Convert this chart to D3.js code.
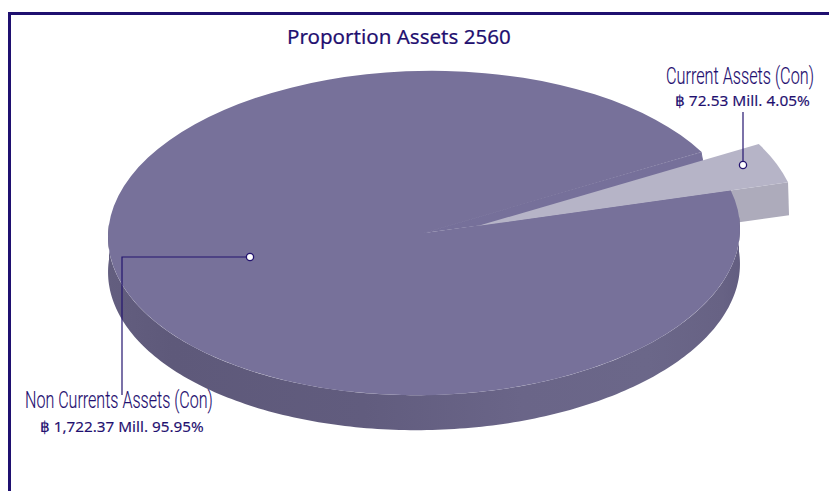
<!DOCTYPE html>
<html><head><meta charset="utf-8">
<script src="https://cdn.jsdelivr.net/npm/d3@7"></script>
<style>html,body{margin:0;padding:0;background:#fff;overflow:hidden}svg{display:block}</style>
</head><body><svg id="c" width="829" height="491"></svg>
<script>
const chartTitle = "Proportion Assets 2560";
const categories = ["Current Assets (Con)", "Non Currents Assets (Con)"];
const values = [72.53, 1722.37];
const valueLabels = ["฿ 72.53 Mill. 4.05%", "฿ 1,722.37 Mill. 95.95%"];
const colors = ["#b6b4c7", "#77719a"];
const sideColors = ["#adabbb", "#615c7e"];

const navy = "#1f1070";
const W = 829, H = 491;
const cx = 424, cy = 233, R = 316, ratio = 0.513, depth = 35;
const tiltDeg = -1.0, tilt = tiltDeg*Math.PI/180;
const startDeg = 62;
const explode = [54.5, -7.2];

const svg = d3.select("#c");
const grad = svg.append("defs").append("linearGradient").attr("id","wall");
[["0%","#635e7f"],["10%","#5e597a"],["40%","#615c7e"],["65%","#6a6588"],["85%","#6b6789"],["97%","#676284"],["100%","#625d80"]]
  .forEach(s => grad.append("stop").attr("offset", s[0]).attr("stop-color", s[1]));

// frame
svg.append("path").attr("d", `M${W},13.5H9.5V${H}`).attr("fill","none").attr("stroke",navy).attr("stroke-width",3);

const pie = d3.pie().sort(null).startAngle(startDeg*Math.PI/180).endAngle((startDeg+360)*Math.PI/180);
const [cur, non] = pie(values);
const px = (a, r=R) => r*Math.sin(a);
const py = (a, r=R) => -r*Math.cos(a)*ratio;
// screen-down depth expressed in the tilted frame
const dx = depth*Math.sin(tilt), dy = depth*Math.cos(tilt);

const Rs = R + 3;
const slicePos = `translate(${cx+explode[0]},${cy+explode[1]}) rotate(${tiltDeg})`;
const mainPos = `translate(${cx},${cy}) rotate(${tiltDeg})`;
// slice-frame offset expressed in the main slice's tilted frame
const ex = explode[0]*Math.cos(tilt) + explode[1]*Math.sin(tilt);
const ey = -explode[0]*Math.sin(tilt) + explode[1]*Math.cos(tilt);

// 1. radial wall of the pulled-out slice
const a1 = cur.endAngle, a0 = cur.startAngle;
const k = 33/depth;
svg.append("path").attr("transform", slicePos).attr("fill", sideColors[0])
  .attr("d", d3.line()([[0,0],[px(a1,Rs),py(a1,Rs)],[px(a1,Rs)+dx*k+1,py(a1,Rs)+dy*k],[dx*k,dy*k]]));

// 2. front wall of the main slice
const wallAngles = d3.range(86, 276, 1).map(d => d*Math.PI/180);
svg.append("path").attr("transform", mainPos).attr("fill","url(#wall)")
  .attr("d", d3.area().x0(a=>px(a)).y0(a=>py(a)).x1(a=>px(a)+dx).y1(a=>py(a)+dy)(wallAngles));

// 3. shaded cut face between main slice and pulled-out slice (ends on the slice's edge)
svg.append("path").attr("transform", mainPos).attr("fill","#76709a").attr("stroke","#76709a").attr("stroke-width",1)
  .attr("d", d3.line()([[0,0],[px(a0)-0.5,py(a0)+0.5],[ex+px(a0,Rs*0.8),ey+py(a0,Rs*0.8)+1],[ex+px(a1,20),ey+py(a1,20)]]));

// 4. top faces
svg.append("g").attr("transform", `${mainPos} scale(1,${ratio})`).append("path")
  .attr("d", d3.arc().innerRadius(0).outerRadius(R)(non)).attr("fill", colors[1]);
svg.append("g").attr("transform", `${slicePos} scale(1,${ratio})`).append("path")
  .attr("d", d3.arc().innerRadius(0).outerRadius(Rs)(cur)).attr("fill", colors[0]);

// leaders
const leader = (pts, dot) => {
  svg.append("path").attr("d", d3.line()(pts)).attr("fill","none").attr("stroke","#24146f").attr("stroke-width",1.2);
  svg.append("circle").attr("cx",dot[0]).attr("cy",dot[1]).attr("r",3.6).attr("fill","#fff").attr("stroke","#24146f").attr("stroke-width",1.3);
};
leader([[743,112],[743,165]], [743,165]);
leader([[250,257],[122,257],[122,395]], [250,257]);

// text fitted horizontally to the reference widths
function fit(str, x, y, w, family, size, weight, fill, stroke) {
  const t = svg.append("text").text(str).attr("font-family",family).attr("font-size",size)
    .attr("font-weight",weight).attr("fill",fill).attr("stroke",fill).attr("stroke-width",stroke);
  const n = t.node().getComputedTextLength();
  t.attr("transform",`translate(${x},${y}) scale(${w/n},1)`);
}
const sans = "'Noto Sans','DejaVu Sans',sans-serif";
fit(chartTitle, 287, 44, 224, sans, 20, 400, navy, 0.2);
fit(categories[0], 666, 83.5, 148, "Roboto,sans-serif", 24, 300, navy, 0.15);
fit(categories[1], 25, 408, 188, "Roboto,sans-serif", 24, 300, navy, 0.15);
fit(valueLabels[0], 675, 106, 135, sans, 15, 400, navy, 0.15);
fit(valueLabels[1], 40, 431.5, 164, sans, 15, 400, navy, 0.15);
</script></body></html>
